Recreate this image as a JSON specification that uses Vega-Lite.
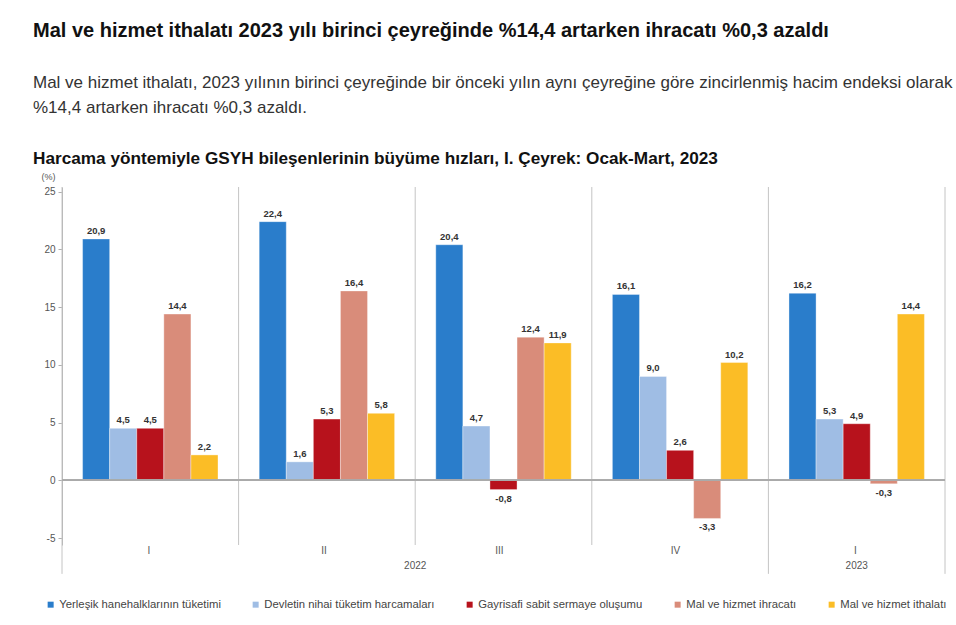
{
  "$schema": "https://vega.github.io/schema/vega-lite/v6.json",
  "padding": {"left": 33, "top": 20, "right": 4, "bottom": 4},
  "background": "white",
  "config": {
    "view": {"stroke": null},
    "font": "Liberation Sans",
    "locale": {"number": {"decimal": ",", "thousands": ".", "grouping": [3], "currency": ["", ""], "minus": "-"}}
  },
  "datasets": {
    "gsyh": [
      {"q": "2022-I", "s": "Yerleşik hanehalklarının tüketimi", "v": 20.9},
      {"q": "2022-I", "s": "Devletin nihai tüketim harcamaları", "v": 4.5},
      {"q": "2022-I", "s": "Gayrisafi sabit sermaye oluşumu", "v": 4.5},
      {"q": "2022-I", "s": "Mal ve hizmet ihracatı", "v": 14.4},
      {"q": "2022-I", "s": "Mal ve hizmet ithalatı", "v": 2.2},
      {"q": "2022-II", "s": "Yerleşik hanehalklarının tüketimi", "v": 22.4},
      {"q": "2022-II", "s": "Devletin nihai tüketim harcamaları", "v": 1.6},
      {"q": "2022-II", "s": "Gayrisafi sabit sermaye oluşumu", "v": 5.3},
      {"q": "2022-II", "s": "Mal ve hizmet ihracatı", "v": 16.4},
      {"q": "2022-II", "s": "Mal ve hizmet ithalatı", "v": 5.8},
      {"q": "2022-III", "s": "Yerleşik hanehalklarının tüketimi", "v": 20.4},
      {"q": "2022-III", "s": "Devletin nihai tüketim harcamaları", "v": 4.7},
      {"q": "2022-III", "s": "Gayrisafi sabit sermaye oluşumu", "v": -0.8},
      {"q": "2022-III", "s": "Mal ve hizmet ihracatı", "v": 12.4},
      {"q": "2022-III", "s": "Mal ve hizmet ithalatı", "v": 11.9},
      {"q": "2022-IV", "s": "Yerleşik hanehalklarının tüketimi", "v": 16.1},
      {"q": "2022-IV", "s": "Devletin nihai tüketim harcamaları", "v": 9.0},
      {"q": "2022-IV", "s": "Gayrisafi sabit sermaye oluşumu", "v": 2.6},
      {"q": "2022-IV", "s": "Mal ve hizmet ihracatı", "v": -3.3},
      {"q": "2022-IV", "s": "Mal ve hizmet ithalatı", "v": 10.2},
      {"q": "2023-I", "s": "Yerleşik hanehalklarının tüketimi", "v": 16.2},
      {"q": "2023-I", "s": "Devletin nihai tüketim harcamaları", "v": 5.3},
      {"q": "2023-I", "s": "Gayrisafi sabit sermaye oluşumu", "v": 4.9},
      {"q": "2023-I", "s": "Mal ve hizmet ihracatı", "v": -0.3},
      {"q": "2023-I", "s": "Mal ve hizmet ithalatı", "v": 14.4}
    ],
    "seps": [
      {"q": "2022-I", "kind": "outer"},
      {"q": "2022-II", "kind": "inner"},
      {"q": "2022-III", "kind": "inner"},
      {"q": "2022-IV", "kind": "inner"},
      {"q": "2023-I", "kind": "outer"}
    ],
    "years": [
      {"year": "2022", "q": "2022-III"},
      {"year": "2023", "q": "2023-I"}
    ]
  },
  "title": {
    "text": "Mal ve hizmet ithalatı 2023 yılı birinci çeyreğinde %14,4 artarken ihracatı %0,3 azaldı",
    "subtitle": ["Mal ve hizmet ithalatı, 2023 yılının birinci çeyreğinde bir önceki yılın aynı çeyreğine göre zincirlenmiş hacim endeksi olarak", "%14,4 artarken ihracatı %0,3 azaldı."],
    "anchor": "start",
    "font": "Liberation Sans",
    "fontSize": 20,
    "fontWeight": "bold",
    "color": "#111111",
    "subtitleFont": "Liberation Sans",
    "subtitleFontSize": 17,
    "subtitleColor": "#333333",
    "subtitlePadding": 34,
    "subtitleLineHeight": 25,
    "offset": 34
  },
  "vconcat": [
    {
      "width": 883,
      "height": 358,
      "title": {
        "text": "Harcama yöntemiyle GSYH bileşenlerinin büyüme hızları, I. Çeyrek: Ocak-Mart, 2023",
        "anchor": "start",
        "font": "Liberation Sans",
        "fontSize": 17.2,
        "fontWeight": "bold",
        "color": "#111111",
        "offset": 5
      },
      "layer": [
        {
          "data": {"name": "seps"},
          "transform": [{"filter": "datum.kind == 'inner'"}],
          "mark": {"type": "rule", "color": "#c4c4c4", "strokeWidth": 1},
          "encoding": {
            "x": {"field": "q", "type": "nominal", "bandPosition": 0},
            "y": {"datum": 25.4},
            "y2": {"datum": -5.6}
          }
        },
        {
          "data": {"name": "seps"},
          "transform": [{"filter": "datum.kind == 'outer'"}],
          "mark": {"type": "rule", "color": "#c4c4c4", "strokeWidth": 1},
          "encoding": {
            "x": {"field": "q", "type": "nominal", "bandPosition": 0},
            "y": {"datum": 25.4},
            "y2": {"datum": -8.1}
          }
        },
        {
          "data": {"name": "seps"},
          "transform": [{"filter": "datum.q == '2023-I'"}],
          "mark": {"type": "rule", "color": "#c4c4c4", "strokeWidth": 1},
          "encoding": {
            "x": {"field": "q", "type": "nominal", "bandPosition": 1},
            "y": {"datum": 25.4},
            "y2": {"datum": -8.1}
          }
        },
        {
          "data": {"name": "gsyh"},
          "mark": {"type": "bar", "stroke": "#ffffff", "strokeWidth": 0.6, "strokeOpacity": 0.6},
          "encoding": {
            "x": {
              "field": "q",
              "type": "nominal",
              "sort": ["2022-I", "2022-II", "2022-III", "2022-IV", "2023-I"],
              "scale": {"paddingInner": 0, "paddingOuter": 0},
              "axis": {
                "title": null,
                "labelAngle": 0,
                "labelExpr": "split(datum.label, '-')[1]",
                "domain": false,
                "ticks": false,
                "labelFont": "Liberation Sans",
                "labelFontSize": 10,
                "labelColor": "#555555",
                "labelPadding": 5
              }
            },
            "xOffset": {
              "field": "s",
              "type": "nominal",
              "sort": ["Yerleşik hanehalklarının tüketimi", "Devletin nihai tüketim harcamaları", "Gayrisafi sabit sermaye oluşumu", "Mal ve hizmet ihracatı", "Mal ve hizmet ithalatı"],
              "scale": {"paddingInner": 0, "paddingOuter": 0.76}
            },
            "y": {
              "field": "v",
              "type": "quantitative",
              "scale": {"domain": [-5.6, 25.4], "nice": false, "zero": false},
              "axis": {
                "values": [-5, 0, 5, 10, 15, 20, 25],
                "grid": false,
                "title": "(%)",
                "titleAngle": 0,
                "titleX": -14,
                "titleY": -11,
                "titleAlign": "center",
                "titleBaseline": "middle",
                "titleFont": "Liberation Sans",
                "titleFontSize": 9,
                "titleFontWeight": "normal",
                "titleColor": "#555555",
                "labelFont": "Liberation Sans",
                "labelFontSize": 10,
                "labelColor": "#555555",
                "domainColor": "#b0b0b0",
                "tickColor": "#b0b0b0",
                "tickSize": 4,
                "labelPadding": 3,
                "minExtent": 29
              }
            },
            "color": {
              "field": "s",
              "type": "nominal",
              "sort": ["Yerleşik hanehalklarının tüketimi", "Devletin nihai tüketim harcamaları", "Gayrisafi sabit sermaye oluşumu", "Mal ve hizmet ihracatı", "Mal ve hizmet ithalatı"],
              "scale": {"range": ["#2a7dcb", "#9fbde4", "#b7121c", "#d98c7a", "#fbbd26"]},
              "legend": {
                "title": null,
                "orient": "none",
                "direction": "horizontal",
                "legendX": -17,
                "legendY": 412,
                "symbolType": "square",
                "symbolSize": 36,
                "symbolStrokeWidth": 0,
                "labelFont": "Liberation Sans",
                "labelFontSize": 11.3,
                "labelColor": "#444444",
                "labelLimit": 300,
                "columnPadding": 29,
                "labelOffset": 3
              }
            }
          }
        },
        {
          "data": {"name": "gsyh"},
          "mark": {"type": "rule", "color": "#aaaaaa", "strokeWidth": 1},
          "encoding": {"y": {"datum": 0}}
        },
        {
          "data": {"name": "gsyh"},
          "transform": [{"filter": "datum.v >= 0"}],
          "mark": {"type": "text", "baseline": "bottom", "dy": -3, "font": "Liberation Sans", "fontSize": 9.5, "fontWeight": "bold", "color": "#333333"},
          "encoding": {
            "x": {"field": "q", "type": "nominal", "sort": ["2022-I", "2022-II", "2022-III", "2022-IV", "2023-I"]},
            "xOffset": {"field": "s", "type": "nominal", "sort": ["Yerleşik hanehalklarının tüketimi", "Devletin nihai tüketim harcamaları", "Gayrisafi sabit sermaye oluşumu", "Mal ve hizmet ihracatı", "Mal ve hizmet ithalatı"]},
            "y": {"field": "v", "type": "quantitative"},
            "text": {"field": "v", "type": "quantitative", "format": ".1f"}
          }
        },
        {
          "data": {"name": "gsyh"},
          "transform": [{"filter": "datum.v < 0"}],
          "mark": {"type": "text", "baseline": "top", "dy": 4, "font": "Liberation Sans", "fontSize": 9.5, "fontWeight": "bold", "color": "#333333"},
          "encoding": {
            "x": {"field": "q", "type": "nominal", "sort": ["2022-I", "2022-II", "2022-III", "2022-IV", "2023-I"]},
            "xOffset": {"field": "s", "type": "nominal", "sort": ["Yerleşik hanehalklarının tüketimi", "Devletin nihai tüketim harcamaları", "Gayrisafi sabit sermaye oluşumu", "Mal ve hizmet ihracatı", "Mal ve hizmet ithalatı"]},
            "y": {"field": "v", "type": "quantitative"},
            "text": {"field": "v", "type": "quantitative", "format": ".1f"}
          }
        },
        {
          "data": {"name": "years"},
          "transform": [{"filter": "datum.year == '2022'"}],
          "mark": {"type": "text", "baseline": "middle", "font": "Liberation Sans", "fontSize": 10, "color": "#555555"},
          "encoding": {
            "x": {"field": "q", "type": "nominal", "bandPosition": 0},
            "y": {"datum": -7.4},
            "text": {"field": "year"}
          }
        },
        {
          "data": {"name": "years"},
          "transform": [{"filter": "datum.year == '2023'"}],
          "mark": {"type": "text", "baseline": "middle", "font": "Liberation Sans", "fontSize": 10, "color": "#555555"},
          "encoding": {
            "x": {"field": "q", "type": "nominal", "bandPosition": 0.5},
            "y": {"datum": -7.4},
            "text": {"field": "year"}
          }
        }
      ]
    }
  ]
}
